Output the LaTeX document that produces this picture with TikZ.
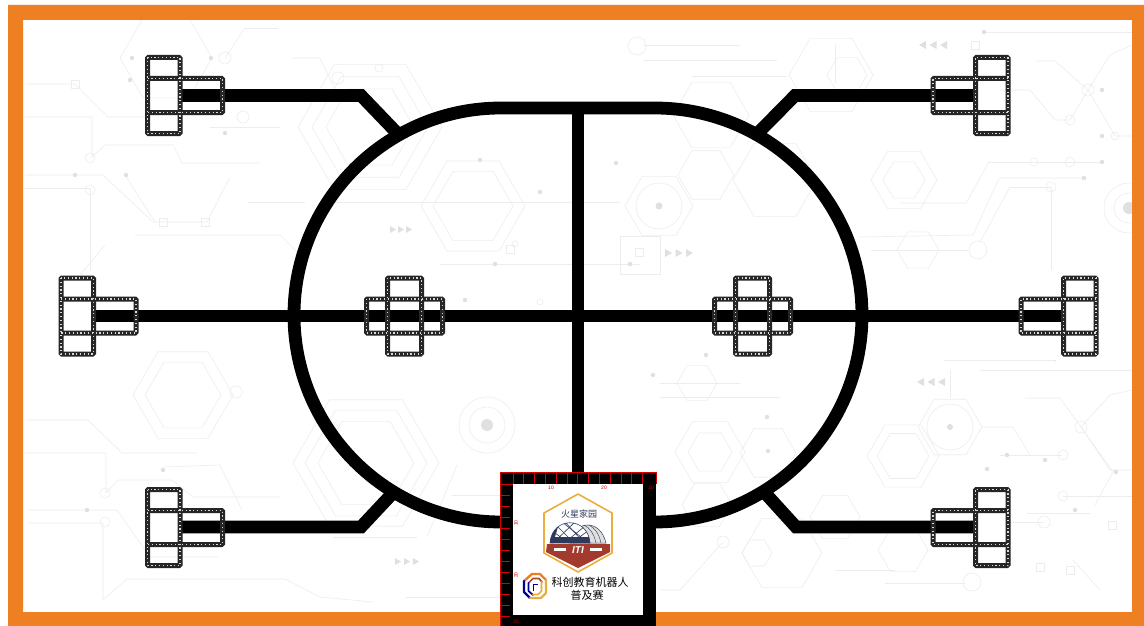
\documentclass[tikz,border=0pt]{standalone}
\usepackage{fontspec}
\setmainfont{Liberation Sans}
\newfontfamily\cjkfont{Noto Sans CJK SC}
\definecolor{orangeb}{HTML}{EE7F22}
\definecolor{bgline}{gray}{0.93}
\definecolor{bgfill}{gray}{0.88}
\definecolor{navy}{HTML}{2E3A5C}
\definecolor{gold}{HTML}{E9AE3C}
\definecolor{brick}{HTML}{A23B2D}
\tikzset{
  track/.style={draw=black,line width=12.8pt,line join=miter},
  filmbase/.style={draw=black!85,line width=5pt,rounded corners=1pt},
  filmdots/.style={draw=white!85!black,line width=1.1pt,dash pattern=on 1.2pt off 2.6pt},
  bg/.style={draw=bgline,line width=0.6pt},
  bgdot/.style={fill=bgfill,draw=none},
  rul/.style={draw=red!85!black,line width=0.8pt},
  rultext/.style={text=red!80!black,font=\fontsize{5}{6}\selectfont,inner sep=0pt},
}
\newcommand{\teepaths}[1]{%
  \draw[#1] (0,-38) rectangle (32.5,38);
  \draw[#1] (0,-17) -- (32.5,-17) -- (75,-17) -- (75,17) -- (32.5,17) -- (0,17);
}
\newcommand{\crosspaths}[1]{%
  \draw[#1] (-17,-38) rectangle (17,38);
  \draw[#1] (-38,-17) rectangle (38,17);
}
\newcommand{\teeframe}[3]{\begin{scope}[shift={(#1,#2)},xscale=#3]\teepaths{filmbase}\teepaths{filmdots}\end{scope}}
\newcommand{\crossframe}[2]{\begin{scope}[shift={(#1,#2)}]\crosspaths{filmbase}\crosspaths{filmdots}\end{scope}}
\newcommand{\bghex}[3]{\draw[bg] (#1-#3,#2) -- ++(#3/2,-#3*0.866) -- ++(#3,0) -- ++(#3/2,#3*0.866) -- ++(-#3/2,#3*0.866) -- ++(-#3,0) -- cycle;}
\newcommand{\bgcirc}[3]{\draw[bg] (#1,#2) circle[radius=#3pt];}
\newcommand{\bgdotat}[3]{\fill[bgdot] (#1,#2) circle[radius=#3pt];}
\newcommand{\bgbox}[2]{\draw[bg] (#1-4,#2-4) rectangle (#1+4,#2+4);}
\begin{document}
\begin{tikzpicture}[x=1pt,y=-1pt]
\useasboundingbox (0,0) rectangle (1144,626);
\fill[white] (0,0) rectangle (1144,626);
% faint circuit background: hexagons
\bghex{166}{58}{46}
\bghex{183}{395}{50}\bghex{183}{395}{38}
\bghex{370}{127}{72}\bghex{370}{127}{58}\bghex{370}{127}{44}
\bghex{366}{463}{73}\bghex{366}{463}{61}\bghex{366}{463}{48}
\bghex{473}{206}{52}\bghex{473}{206}{40}
\bghex{659}{206}{34}
\bghex{831}{75}{42}\bghex{847}{75}{20}
\bghex{711}{115}{38}
\bghex{706}{175}{28}
\bghex{904}{180}{33}\bghex{904}{180}{21}
\bghex{918}{250}{21}
\bghex{775}{180}{42}
\bghex{950}{427}{32}
\bghex{903}{456}{36}\bghex{903}{456}{26}
\bghex{710}{452}{35}\bghex{710}{452}{22}
\bghex{768}{453}{28}
\bghex{697}{383}{20}
\bghex{707}{505}{25}
\bghex{835}{517}{25}
\bghex{903}{550}{25}
\bghex{782}{553}{40}\bghex{757}{553}{15}
% circles and targets
\bgcirc{659}{206}{23}\bgdotat{659}{206}{3.5}
\bgcirc{487}{425}{28}\bgcirc{487}{425}{18}\bgdotat{487}{425}{6}
\bgcirc{950}{427}{23}\bgdotat{950}{427}{3}
\bgcirc{1129}{208}{25}\bgcirc{1129}{208}{15}\bgdotat{1129}{208}{6}
\bgcirc{225}{58}{6}\bgcirc{637}{46}{9}\bgcirc{243}{117}{6}
\bgcirc{90}{158}{5}\bgcirc{90}{190}{5}\bgcirc{338}{78}{6}\bgcirc{379}{68}{4}
\bgcirc{236}{392}{6}\bgcirc{105}{493}{5}\bgcirc{105}{522}{5}
\bgcirc{1088}{90}{6}\bgcirc{978}{250}{9}\bgcirc{1034}{162}{4}\bgcirc{1070}{162}{5}
\bgcirc{1051}{187}{5}\bgcirc{1070}{120}{5}\bgcirc{1115}{136}{4}
\bgcirc{1081}{427}{6}\bgcirc{1063}{455}{5}\bgcirc{1063}{496}{5}\bgcirc{1044}{522}{6}
\bgcirc{972}{582}{9}\bgcirc{723}{542}{6}\bgcirc{515}{244}{3}
\bgcirc{540}{302}{3}
% traces
\draw[bg] (25,84) -- (75,84) -- (108,117) -- (147,117);
\draw[bg] (25,117) -- (92,117) -- (92,157) -- (105,145) -- (173,145) -- (182,163) -- (260,163);
\draw[bg] (25,175) -- (103,175) -- (153,222) -- (207,222) -- (230,177);
\draw[bg] (25,188) -- (90,188) -- (90,270);
\draw[bg] (125,175) -- (155,222);
\draw[bg] (248,202) -- (305,202);
\draw[bg] (135,235) -- (280,235) -- (300,255);
\draw[bg] (105,245) -- (80,275);
\draw[bg] (245,28) -- (278,28);
\draw[bg] (225,58) -- (245,28);
\draw[bg] (293,58) -- (320,58) -- (340,100);
\draw[bg] (210,127) -- (280,127);
\draw[bg] (335,202) -- (620,202);
\draw[bg] (440,264) -- (640,264);
\draw[bg] (620,236) rectangle (660,274);
\bgbox{639}{252}
\draw[bg] (643,45) -- (740,45);
\draw[bg] (643,60) -- (777,60);
\draw[bg] (692,76) -- (787,76);
\draw[bg] (835,45) -- (835,83);
\draw[bg] (984,32) -- (1132,32);
\draw[bg] (1036,61) -- (1055,61) -- (1088,90) -- (1070,120);
\draw[bg] (1088,90) -- (1115,136) -- (1132,136);
\draw[bg] (1088,90) -- (1110,55) -- (1132,45);
\draw[bg] (1000,90) -- (1030,90) -- (1055,120) -- (1070,120);
\draw[bg] (1084,178) -- (999,178) -- (973,235) -- (859,237);
\draw[bg] (989,162) -- (1102,162);
\draw[bg] (989,162) -- (966,203) -- (900,203);
\draw[bg] (1010,187) -- (1051,187) -- (1051,270);
\draw[bg] (1010,187) -- (980,242);
\draw[bg] (871,250) -- (968,250);
\draw[bg] (25,420) -- (88,420) -- (122,453) -- (197,453);
\draw[bg] (25,453) -- (106,453) -- (106,493) -- (118,480) -- (172,480) -- (193,497) -- (280,497);
\draw[bg] (28,510) -- (117,510) -- (150,557) -- (218,557);
\draw[bg] (28,523) -- (103,523) -- (103,600) -- (127,579) -- (285,579) -- (320,597) -- (373,602);
\draw[bg] (406,597) -- (500,597);
\draw[bg] (163,467) -- (220,465) -- (242,510);
\draw[bg] (333,537) -- (417,537);
\draw[bg] (457,465) -- (427,537);
\draw[bg] (452,495) -- (500,495);
\draw[bg] (660,383) -- (740,383);
\draw[bg] (660,397) -- (780,397);
\draw[bg] (1000,455) -- (1062,455);
\draw[bg] (982,427) -- (1013,427) -- (1030,455);
\draw[bg] (1063,496) -- (1132,496);
\draw[bg] (1027,513) -- (1090,513);
\draw[bg] (1044,522) -- (1010,522);
\draw[bg] (1025,398) -- (1060,398) -- (1081,427) -- (1110,470) -- (1132,470);
\draw[bg] (1081,427) -- (1110,395) -- (1132,390);
\draw[bg] (1081,427) -- (1113,472) -- (1095,505);
\draw[bg] (944,360) -- (1055,360) -- (1055,362);
\draw[bg] (980,370) -- (1132,370);
\draw[bg] (950,370) -- (950,398);
\draw[bg] (1073,560) -- (1100,590);
\draw[bg] (835,570) -- (895,570);
\draw[bg] (885,583) -- (965,583);
\draw[bg] (660,590) -- (680,590) -- (723,542);
\foreach \x/\y in {132/58,211/58,130/80,75/175,126/175,225/133,495/264,630/264,1102/90,984/32,1084/178,1102/162,1102/136,
  465/300,480/160,540/192,616/163,706/355,767/417,768/451,1007/455,987/469,1075/510,1045/460,1116/472,163/470,87/510,653/375}{\bgdotat{\x}{\y}{2.2}}
\foreach \x/\y in {75/84,163/222,205/222,510/249,975/45,1112/525,1070/570,1040/567}{\bgbox{\x}{\y}}
\foreach \i in {0,1,2}{
  \fill[bgfill] (390+\i*8,226) -- ++(6,3.5) -- ++(-6,3.5) -- cycle;
  \fill[bgfill] (395+\i*9,558) -- ++(6,3.5) -- ++(-6,3.5) -- cycle;
  \fill[bgfill] (665+\i*10.5,249) -- ++(7,4) -- ++(-7,4) -- cycle;
  \fill[bgfill] (945-\i*10.5,378) -- ++(-7,4) -- ++(7,4) -- cycle;
  \fill[bgfill] (947-\i*10.5,41) -- ++(-7,4) -- ++(7,4) -- cycle;
}
% orange border
\fill[orangeb,even odd rule] (8,5) rectangle (1144,626) (23,20) rectangle (1132,612);
% track
\coordinate (ovTL) at (501,108); \coordinate (ovTR) at (655,108);
\coordinate (ovR) at (862,315); \coordinate (ovBR) at (655,522);
\coordinate (ovBL) at (501,522); \coordinate (ovL) at (294,315);
\draw[track] (ovTL) -- (ovTR) .. controls (769.3,108) and (862,200.7) .. (ovR)
  .. controls (862,429.3) and (769.3,522) .. (ovBR) -- (ovBL)
  .. controls (386.7,522) and (294,429.3) .. (ovL)
  .. controls (294,200.7) and (386.7,108) .. (ovTL) -- cycle;
\coordinate (midL) at (96,316); \coordinate (midR) at (1062,316);
\coordinate (cT) at (578,108); \coordinate (cB) at (578,480);
\draw[track] (midL) -- (midR);
\draw[track] (cT) -- (cB);
\coordinate (a1) at (182,95.5); \coordinate (a2) at (361,95.5); \coordinate (a3) at (397,133);
\coordinate (b1) at (973,95.5); \coordinate (b2) at (795,95.5); \coordinate (b3) at (758,133);
\coordinate (c1) at (182,527); \coordinate (c2) at (361,527); \coordinate (c3) at (391,495);
\coordinate (d1) at (973,527); \coordinate (d2) at (796,527); \coordinate (d3) at (766,494);
\draw[track] (a1) -- (a2) -- (a3);
\draw[track] (b1) -- (b2) -- (b3);
\draw[track] (c1) -- (c2) -- (c3);
\draw[track] (d1) -- (d2) -- (d3);
% frames
\teeframe{147.5}{95.5}{1}
\teeframe{1008}{95.5}{-1}
\teeframe{61}{316}{1}
\teeframe{1096}{316}{-1}
\teeframe{147.5}{527.5}{1}
\teeframe{1008}{527.5}{-1}
\crossframe{404.5}{316}
\crossframe{752.5}{316}
% start square
\fill[black] (500,472) rectangle (656,626);
\fill[white] (513,484) rectangle (643,615);
\draw[rul] (500,472) -- (656,472) -- (656,484);
\draw[rul] (500,472) -- (500,626);
\draw[rul] (500,484) -- (513,484);
\foreach \i in {0,...,12}{\draw[rul] (513+\i*10.8,472) -- (513+\i*10.8,484);}
\foreach \i in {1,...,12}{\draw[rul] (500,484+\i*11) -- (510,484+\i*11);}
\node[rultext] (t1) at (551,487.5) {10};
\node[rultext] (t2) at (604,487.5) {20};
\node[rultext] (t3) at (651,487.5) {30};
\node[rultext,rotate=90] (t4) at (516,523) {10};
\node[rultext,rotate=90] (t5) at (516,575) {20};
\node[rultext] (t6) at (516,622) {30};
% logo
\fill[white,draw=gold,line width=1.6pt,line join=round] (578,494) -- (612,513) -- (612,553) -- (578,572) -- (544,553) -- (544,513) -- cycle;
\fill[gray!25,draw=navy,line width=0.5pt] (570,543) .. controls (574,520) and (600,518) .. (606,543) -- cycle;
\foreach \a in {590,596,601}{\draw[navy,line width=0.4pt] (\a,543) .. controls (\a-2,534) and (\a-6,528) .. (\a-12,525);}
\fill[white,draw=navy,line width=0.6pt] (550,543) .. controls (552,516) and (588,516) .. (590,543) -- cycle;
\begin{scope}
\clip (550,543) .. controls (552,516) and (588,516) .. (590,543) -- cycle;
\foreach \a/\b in {553/575,562/590,575/552,590/563,565/585,582/600,540/570,600/570}{\draw[navy,line width=0.6pt] (\a,522) -- (\b,544);}
\fill[navy] (550,537) rectangle (590,543);
\fill[navy] (550,543) -- (550,527) -- (558,527) -- (553,543) -- cycle;
\end{scope}
\fill[brick] (547,544) -- (610,544) -- (610,552) -- (578,568) -- (546,552) -- cycle;
\fill[white] (554,548) rectangle (566,551);
\fill[white] (590,548) rectangle (602,551);
\node[text=white,font=\bfseries\itshape\fontsize{10}{11}\selectfont,inner sep=0pt] (iti) at (578,550) {ITI};
\node[text=navy,font=\cjkfont\fontsize{9}{10}\selectfont,inner sep=0pt] (mars) at (579,514) {火星家园};
\node[text=black,font=\cjkfont\fontsize{11}{12}\selectfont,inner sep=0pt] (l1) at (590,582) {科创教育机器人};
\node[text=black,font=\cjkfont\fontsize{11}{12}\selectfont,inner sep=0pt] (l2) at (587,595) {普及赛};
% ring emblem
\draw[orangeb,line width=2.4pt,line cap=round,line join=round] (524,581) -- (532,574) -- (540,574) -- (546,580);
\draw[brick!80!orangeb,line width=1.7pt,line cap=round,line join=round] (528.5,583) -- (533,578.5) -- (539,578.5) -- (542,582);
\draw[blue!60!black,line width=2.4pt,line cap=round,line join=round] (524,581) -- (524,592) -- (530,598);
\draw[blue!60!black,line width=1.7pt,line cap=round,line join=round] (528.5,583) -- (528.5,591) -- (533,595);
\draw[gold,line width=2.4pt,line cap=round,line join=round] (530,598) -- (541,598) -- (546,593) -- (546,580);
\draw[gold,line width=1.7pt,line cap=round,line join=round] (533,594.5) -- (538,594.5) -- (541.5,591) -- (541.5,582);
\draw[blue!60!black,line width=1pt,line join=round] (533,591) -- (533,584) -- (538,584);
\end{tikzpicture}
\end{document}
